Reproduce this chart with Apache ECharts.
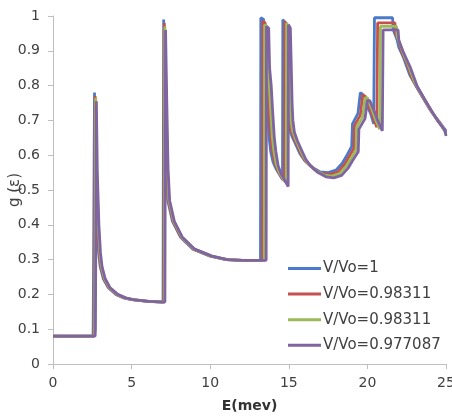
<!DOCTYPE html>
<html>
<head>
<meta charset="utf-8">
<script src="https://cdn.jsdelivr.net/npm/echarts@6/dist/echarts.min.js"></script>
<style>
html,body{margin:0;padding:0;background:#fff;}
#c{width:452px;height:417px;}
</style>
</head>
<body>
<div id="c"></div>
<script>
// Series labels (legend)
var seriesNames = ['V/Vo=1', 'V/Vo=0.98311', 'V/Vo=0.98311', 'V/Vo=0.977087'];
// Axis ticks
var xTicks = [0, 5, 10, 15, 20, 25];
var yTicks = [0, 0.1, 0.2, 0.3, 0.4, 0.5, 0.6, 0.7, 0.8, 0.9, 1];

// [E (meV), g]
var dataV1 = [[0,0.08],[2.55,0.08],[2.56,0.13],[2.62,0.13],[2.64,0.78],[2.7,0.55],[2.8,0.40],[2.9,0.32],[3.0,0.28],[3.2,0.245],[3.5,0.22],[4.0,0.20],[4.5,0.19],[5.0,0.185],[6.0,0.18],[7.0,0.178],[7.02,0.178],[7.04,0.99],[7.12,0.75],[7.2,0.56],[7.3,0.47],[7.6,0.41],[8.1,0.365],[8.9,0.33],[10,0.31],[11,0.30],[12,0.298],[13.2,0.298],[13.22,0.995],[13.4,0.99],[13.45,0.85],[13.55,0.80],[13.65,0.72],[13.75,0.65],[13.85,0.61],[14.0,0.58],[14.2,0.56],[14.4,0.545],[14.6,0.53],[14.62,0.99],[14.75,0.98],[14.8,0.85],[14.85,0.75],[14.9,0.70],[15.0,0.68],[15.2,0.655],[15.5,0.625],[15.7,0.605],[16,0.585],[16.5,0.565],[17,0.552],[17.5,0.55],[18,0.557],[18.4,0.577],[18.7,0.6],[19.0,0.625],[19.05,0.69],[19.4,0.72],[19.55,0.78],[19.7,0.775],[20.0,0.74],[20.2,0.72],[20.4,0.69],[20.45,0.995],[21.6,0.995],[21.65,0.96],[21.9,0.93],[22.0,0.91],[22.3,0.88],[22.7,0.83],[23.2,0.79],[23.6,0.76],[24,0.73],[24.5,0.70],[25,0.67]];

var dataV2 = [[0,0.08],[2.6,0.08],[2.62,0.12],[2.66,0.12],[2.68,0.77],[2.74,0.55],[2.84,0.40],[2.94,0.32],[3.04,0.28],[3.24,0.245],[3.54,0.22],[4.04,0.20],[4.54,0.19],[5.04,0.185],[6.04,0.18],[7.04,0.178],[7.08,0.98],[7.16,0.75],[7.24,0.56],[7.34,0.47],[7.64,0.41],[8.14,0.365],[8.94,0.33],[10.04,0.31],[11.04,0.30],[12.04,0.298],[13.32,0.298],[13.34,0.985],[13.5,0.98],[13.56,0.85],[13.66,0.80],[13.76,0.72],[13.86,0.65],[13.96,0.61],[14.1,0.58],[14.3,0.555],[14.5,0.54],[14.72,0.525],[14.74,0.985],[14.86,0.975],[14.92,0.85],[14.97,0.75],[15.02,0.70],[15.12,0.675],[15.32,0.65],[15.62,0.62],[15.82,0.60],[16.12,0.58],[16.62,0.56],[17.12,0.547],[17.62,0.545],[18.12,0.552],[18.52,0.572],[18.82,0.595],[19.14,0.62],[19.18,0.685],[19.55,0.715],[19.7,0.773],[19.85,0.77],[20.15,0.735],[20.35,0.71],[20.6,0.68],[20.65,0.98],[21.75,0.98],[21.8,0.95],[22.05,0.92],[22.15,0.90],[22.45,0.87],[22.85,0.82],[23.35,0.78],[23.75,0.75],[24.15,0.72],[24.65,0.69],[25,0.665]];

var dataV3 = [[0,0.08],[2.64,0.08],[2.66,0.11],[2.7,0.11],[2.72,0.765],[2.78,0.55],[2.88,0.40],[2.98,0.32],[3.08,0.28],[3.28,0.245],[3.58,0.22],[4.08,0.20],[4.58,0.19],[5.08,0.185],[6.08,0.18],[7.08,0.178],[7.12,0.97],[7.2,0.75],[7.28,0.56],[7.38,0.47],[7.68,0.41],[8.18,0.365],[8.98,0.33],[10.08,0.31],[11.08,0.30],[12.08,0.298],[13.44,0.298],[13.46,0.975],[13.6,0.97],[13.66,0.85],[13.76,0.80],[13.86,0.72],[13.96,0.65],[14.06,0.61],[14.2,0.575],[14.4,0.55],[14.6,0.535],[14.84,0.52],[14.86,0.98],[14.98,0.97],[15.04,0.85],[15.09,0.75],[15.14,0.70],[15.24,0.67],[15.44,0.645],[15.74,0.615],[15.94,0.595],[16.24,0.575],[16.74,0.555],[17.24,0.543],[17.74,0.54],[18.24,0.547],[18.64,0.567],[18.94,0.59],[19.28,0.615],[19.32,0.68],[19.7,0.71],[19.85,0.765],[20.0,0.765],[20.3,0.73],[20.5,0.705],[20.78,0.675],[20.83,0.97],[21.85,0.97],[21.9,0.94],[22.15,0.91],[22.3,0.89],[22.6,0.86],[23.0,0.81],[23.5,0.77],[23.9,0.74],[24.3,0.71],[24.8,0.68],[25,0.66]];

var dataV4 = [[0,0.08],[2.68,0.08],[2.7,0.10],[2.74,0.10],[2.76,0.755],[2.82,0.55],[2.92,0.40],[3.02,0.32],[3.12,0.28],[3.32,0.245],[3.62,0.22],[4.12,0.20],[4.62,0.19],[5.12,0.185],[6.12,0.18],[7.12,0.178],[7.16,0.96],[7.24,0.75],[7.32,0.56],[7.42,0.47],[7.72,0.41],[8.22,0.365],[9.02,0.33],[10.12,0.31],[11.12,0.30],[12.12,0.298],[13.56,0.298],[13.58,0.97],[13.72,0.965],[13.78,0.85],[13.88,0.80],[13.98,0.72],[14.08,0.65],[14.18,0.61],[14.32,0.57],[14.52,0.545],[14.72,0.53],[14.96,0.51],[14.98,0.975],[15.1,0.965],[15.16,0.85],[15.21,0.75],[15.26,0.70],[15.36,0.665],[15.56,0.64],[15.86,0.61],[16.06,0.59],[16.36,0.57],[16.86,0.55],[17.36,0.538],[17.86,0.535],[18.36,0.542],[18.76,0.562],[19.06,0.585],[19.42,0.61],[19.46,0.675],[19.85,0.705],[20.0,0.757],[20.15,0.757],[20.45,0.725],[20.65,0.70],[20.95,0.67],[21.0,0.96],[21.95,0.96],[22.0,0.93],[22.25,0.90],[22.45,0.88],[22.75,0.85],[23.15,0.80],[23.65,0.76],[24.05,0.73],[24.45,0.70],[24.95,0.67],[25,0.655]];

var seriesData = [dataV1, dataV2, dataV3, dataV4];
var colors = ['#4a7ac9', '#c5504d', '#9bbb59', '#8064a2'];
var seriesIds = ['s0', 's1', 's2', 's3'];

var chart = echarts.init(document.getElementById('c'), null, {renderer: 'canvas'});
var font = 'DejaVu Sans';
var series = seriesData.map(function (d, i) {
  return {
    name: seriesIds[i],
    type: 'line',
    data: d,
    showSymbol: false,
    symbol: 'none',
    animation: false,
    lineStyle: {color: colors[i], width: 2.8},
    itemStyle: {color: colors[i]}
  };
});

chart.setOption({
  animation: false,
  color: colors,
  grid: {left: 53, right: 6, top: 16, bottom: 53, containLabel: false, outerBoundsMode: 'none'},
  legend: {
    orient: 'vertical',
    left: 283,
    top: 255,
    icon: 'rect',
    itemWidth: 33,
    itemHeight: 3,
    itemGap: 8.6,
    data: seriesIds,
    formatter: function (n) { return seriesNames[seriesIds.indexOf(n)]; },
    textStyle: {fontFamily: font, fontSize: 15, color: '#404040', lineHeight: 17, padding: [0, 0, 0, -3]}
  },
  xAxis: {
    type: 'value',
    min: xTicks[0],
    max: xTicks[xTicks.length - 1],
    interval: 5,
    name: 'E(mev)',
    nameLocation: 'middle',
    nameGap: 35,
    nameMoveOverlap: false,
    nameTextStyle: {fontFamily: font, fontSize: 14, fontWeight: 'bold', color: '#333'},
    splitLine: {show: false},
    axisLine: {lineStyle: {color: '#bfbfbf', width: 1}},
    axisTick: {length: 5, lineStyle: {color: '#bfbfbf'}},
    axisLabel: {fontFamily: font, fontSize: 14, color: '#404040', margin: 12}
  },
  yAxis: {
    type: 'value',
    min: yTicks[0],
    max: yTicks[yTicks.length - 1],
    interval: 0.1,
    name: 'g (ε)',
    nameLocation: 'middle',
    nameRotate: 90,
    nameGap: 30,
    nameMoveOverlap: false,
    nameTextStyle: {fontFamily: font, fontSize: 15, color: '#404040'},
    splitLine: {show: false},
    axisLine: {show: true, lineStyle: {color: '#bfbfbf', width: 1}},
    axisTick: {show: true, length: 5, lineStyle: {color: '#bfbfbf'}},
    axisLabel: {fontFamily: font, fontSize: 14, color: '#404040', margin: 13,
      formatter: function (v) { return String(Math.round(v * 10) / 10); }}
  },
  series: series
});
</script>
</body>
</html>
